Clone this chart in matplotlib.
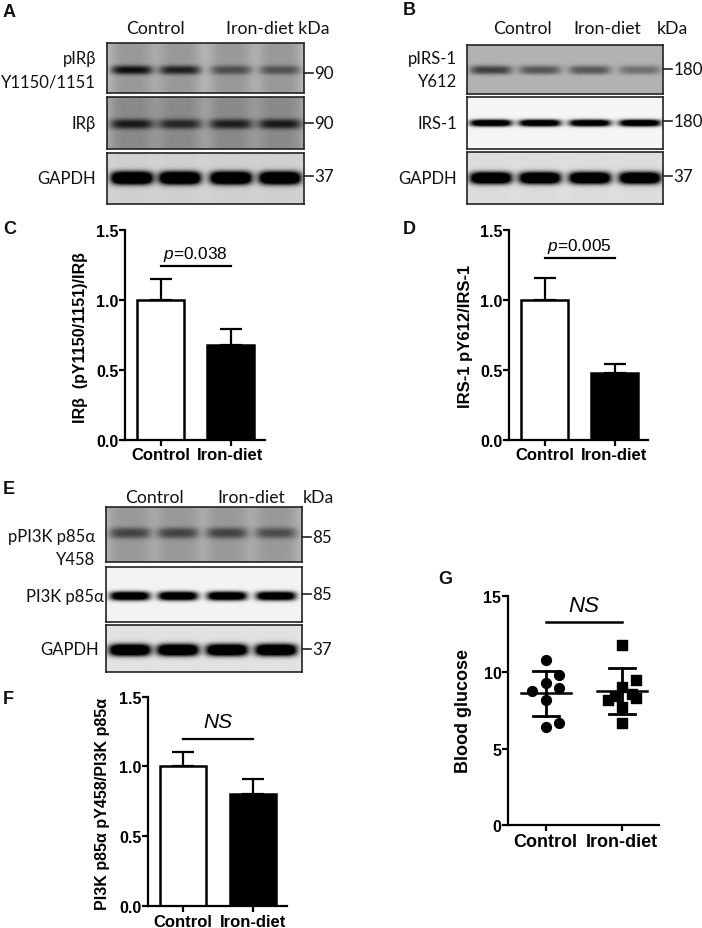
import matplotlib
matplotlib.use("Agg")
import matplotlib.pyplot as plt
import numpy as np

W, H = 702, 929
groups = ["Control", "Iron-diet"]

# bar panels: mean, error
irb_mean = [1.0, 0.68]
irb_err = [0.15, 0.11]
irs_mean = [1.0, 0.475]
irs_err = [0.155, 0.065]
pi3k_mean = [1.0, 0.80]
pi3k_err = [0.105, 0.11]

# blood glucose
ctrl_x = [0, 0.18, 0, 0.18, -0.18, 0, 0, 0.18]
ctrl_y = [10.78, 9.8, 9.3, 9.0, 8.77, 8.16, 6.45, 6.67]
ctrl_mean, ctrl_lo, ctrl_hi = 8.65, 7.17, 10.12
iron_x = [1, 1.18, 1, 0.91, 0.82, 1.18, 1.13, 1, 1]
iron_y = [11.76, 9.47, 9.07, 8.45, 8.2, 8.3, 8.6, 7.7, 6.7]
iron_mean, iron_lo, iron_hi = 8.75, 7.24, 10.28

# blot band strength per lane (0 none, 1 black)
a1_bands = [0.55, 0.48, 0.30, 0.28]
a2_bands = [0.45, 0.40, 0.43, 0.45]
a3_bands = [1.0, 1.0, 1.0, 1.0]
b1_bands = [0.45, 0.36, 0.36, 0.26]
b2_bands = [0.95, 0.95, 0.92, 0.95]
b3_bands = [1.0, 1.0, 1.0, 1.0]
e1_bands = [0.34, 0.34, 0.34, 0.30]
e2_bands = [0.95, 0.95, 0.95, 0.95]
e3_bands = [1.0, 1.0, 1.0, 1.0]

plt.rcParams["font.family"] = ["Liberation Sans", "DejaVu Sans"]
plt.rcParams["mathtext.fontset"] = "custom"
plt.rcParams["mathtext.it"] = "Liberation Sans:italic"
plt.rcParams["mathtext.rm"] = "Liberation Sans"
LABEL = ["Lato", "DejaVu Sans"]

fig = plt.figure(figsize=(W / 100, H / 100), dpi=100)
over = fig.add_axes([0, 0, 1, 1], zorder=5)
over.set_xlim(0, W)
over.set_ylim(H, 0)
over.axis("off")


def px_axes(x0, y0, x1, y1):
    return fig.add_axes([x0 / W, 1 - y1 / H, (x1 - x0) / W, (y1 - y0) / H])


def blot(x0, y0, x1, y1, lanes, band_y, bands, bg, thick, half, smear=0.0):
    ax = px_axes(x0, y0, x1, y1)
    xx, yy = np.meshgrid(np.arange(x0, x1) + 0.5, np.arange(y0, y1) + 0.5)
    img = np.full(xx.shape, bg, dtype=float)
    for lane, d in zip(lanes, bands):
        # darker lane smear behind the band
        img -= smear * np.exp(-((xx - lane) / (half + 2)) ** 4)
    for lane, d in zip(lanes, bands):
        prof = np.exp(-np.abs((xx - lane) / half) ** 5) * np.exp(-np.abs((yy - band_y) / thick) ** 2.5)
        img -= d * 1.4 * prof if d > 0.9 else d * prof
    ax.imshow(np.clip(img, 0, 1), cmap="gray", vmin=0, vmax=1, aspect="auto",
              extent=(x0, x1, y1, y0), interpolation="bilinear")
    ax.set_xticks([])
    ax.set_yticks([])
    for s in ax.spines.values():
        s.set_linewidth(1.2)
        s.set_color("#222222")
    return ax


def kda(x, y, label):
    over.plot([x, x + 9], [y, y], color="#222222", lw=1.2)
    over.text(x + 10.5, y, label, family=LABEL, fontsize=12.2, va="center", ha="left", color="#111111")


def blot_text(x, y, s, ha="right"):
    over.text(x, y, s, family=LABEL, fontsize=12, va="center", ha=ha, color="#111111")


def head_text(x, y, s):
    over.text(x, y, s, family=LABEL, fontsize=12.7, va="center", color="#111111")


def panel_letter(x, y, s):
    over.text(x, y, s, fontsize=13, fontweight="bold", va="center", ha="left", color="#111111")


def style_axis(ax, ylim, ticks, fmt, xsize=12):
    ax.patch.set_alpha(0)
    ax.spines["top"].set_visible(False)
    ax.spines["right"].set_visible(False)
    ax.spines["left"].set_linewidth(1.6)
    ax.spines["bottom"].set_linewidth(1.6)
    ax.set_ylim(*ylim)
    ax.set_yticks(ticks)
    ax.set_yticklabels([fmt % t for t in ticks], fontsize=11.5, fontweight="bold")
    ax.set_xticks([0, 1])
    ax.set_xticklabels(groups, fontsize=xsize, fontweight="bold")
    ax.tick_params(axis="y", width=1.6, length=4, pad=0.5)
    ax.tick_params(axis="x", width=1.6, length=4, pad=1.5)


def bar_panel(x0, y0, x1, y1, c0, c1, mean, err, ylabel, sig, sig_y, sig_text_y, lab_x, lab_y, lab_size):
    ax = px_axes(x0, y0, x1, y1)
    step = c1 - c0
    ax.set_xlim((x0 - c0) / step, (x1 - c0) / step)
    ax.bar([0, 1], mean, width=0.66, color=["white", "black"], edgecolor="black", linewidth=1.8)
    for i in range(2):
        ax.errorbar(i, mean[i], yerr=[[0], [err[i]]], color="black", capsize=8, capthick=1.6, elinewidth=1.6)
    style_axis(ax, (0, 1.5), [0, 0.5, 1.0, 1.5], "%.1f")
    ax.plot([0, 1], [sig_y, sig_y], color="black", lw=1.6, clip_on=False)
    if sig == "NS":
        ax.text(0.5, sig_text_y, "NS", fontsize=15, style="italic", ha="center", va="center")
    else:
        ax.text(0.5, sig_text_y, sig, fontsize=12.4, ha="center", va="center")
    over.text(lab_x, lab_y, ylabel, rotation=90, fontsize=lab_size, fontweight="bold",
              ha="center", va="center", color="black")
    return ax


# panel A
a_lanes = [132, 180, 231, 280]
blot(107, 44, 304, 94, a_lanes, 71, a1_bands, 0.78, 4.5, 21, 0.18)
blot(107, 98, 304, 150, a_lanes, 125, a2_bands, 0.72, 5, 22, 0.18)
blot(107, 154, 304, 205, a_lanes, 179, a3_bands, 0.84, 6.5, 21, 0.03)
head_text(126, 29, "Control")
head_text(226, 29, "Iron-diet kDa")
blot_text(96, 59, "pIRβ")
blot_text(96, 82, "Y1150/1151")
blot_text(96, 124, "IRβ")
blot_text(96, 179, "GAPDH")
kda(304, 74, "90")
kda(304, 124, "90")
kda(304, 177, "37")

# panel B
b_lanes = [491, 540, 590, 640]
blot(467, 46, 663, 95, b_lanes, 71, b1_bands, 0.70, 4.5, 21)
blot(467, 98, 663, 150, b_lanes, 124, b2_bands, 0.96, 3.5, 21)
blot(467, 153, 663, 205, b_lanes, 179, b3_bands, 0.88, 6, 21, 0.02)
head_text(493, 29, "Control")
head_text(573, 29, "Iron-diet")
head_text(657, 29, "kDa")
blot_text(457, 59, "pIRS-1")
blot_text(457, 82, "Y612")
blot_text(457, 124, "IRS-1")
blot_text(457, 179, "GAPDH")
kda(663, 70, "180")
kda(663, 122, "180")
kda(663, 177, "37")

# panel E
e_lanes = [130, 178, 227, 276]
blot(106, 508, 302, 563, e_lanes, 534, e1_bands, 0.74, 5.5, 21, 0.14)
blot(106, 568, 302, 623, e_lanes, 597, e2_bands, 0.95, 4.5, 20)
blot(106, 626, 302, 673, e_lanes, 651, e3_bands, 0.90, 6, 21, 0.02)
head_text(125, 498, "Control")
head_text(217, 498, "Iron-diet")
head_text(303, 498, "kDa")
blot_text(95, 537, "pPI3K p85α")
blot_text(95, 560, "Y458")
blot_text(104, 597, "PI3K p85α")
blot_text(99, 650, "GAPDH")
kda(302, 538, "85")
kda(302, 595, "85")
kda(302, 650, "37")

# bar panels
bar_panel(125, 231, 265, 440.7, 160.5, 230.5, irb_mean, irb_err,
          "IRβ  (pY1150/1151)/IRβ", r"$\mathit{p}$=0.038", 1.242, 1.335, 81, 338, 11.5)
bar_panel(509, 231, 648, 440.7, 544.5, 614.5, irs_mean, irs_err,
          "IRS-1 pY612/IRS-1", r"$\mathit{p}$=0.005", 1.30, 1.39, 465.5, 336, 12)
bar_panel(148, 697.7, 287, 907, 183, 253, pi3k_mean, pi3k_err,
          "PI3K p85α pY458/PI3K p85α", "NS", 1.197, 1.319, 103, 804, 11.5)

panel_letter(3, 12, "A")
panel_letter(403, 10, "B")
panel_letter(3, 229, "C")
panel_letter(403, 229, "D")
panel_letter(3, 490, "E")
panel_letter(3, 699, "F")
panel_letter(438, 580, "G")

# panel G
ax = px_axes(507.7, 597, 659, 826)
step = 76.3
ax.set_xlim((507.7 - 545.7) / step, (659 - 545.7) / step)
ax.scatter(ctrl_x, ctrl_y, s=50, marker="o", color="black", zorder=3, clip_on=False)
ax.scatter(iron_x, iron_y, s=46, marker="s", color="black", zorder=3, clip_on=False)
for i, (m, lo, hi) in enumerate([(ctrl_mean, ctrl_lo, ctrl_hi), (iron_mean, iron_lo, iron_hi)]):
    ax.plot([i, i], [lo, hi], color="black", lw=2, zorder=4)
    ax.plot([i - 0.33, i + 0.33], [m, m], color="black", lw=1.8, zorder=4)
    ax.plot([i - 0.17, i + 0.17], [lo, lo], color="black", lw=2, zorder=4)
    ax.plot([i - 0.17, i + 0.17], [hi, hi], color="black", lw=2, zorder=4)
style_axis(ax, (0, 15), [0, 5, 10, 15], "%d", xsize=13)
ax.plot([0, 1], [13.3, 13.3], color="black", lw=1.8)
ax.text(0.5, 14.4, "NS", fontsize=16, style="italic", ha="center", va="center", clip_on=False)
over.text(463, 711, "Blood glucose", rotation=90, fontsize=13, fontweight="bold", ha="center", va="center")

fig.savefig("out.png", dpi=100, facecolor="white")
